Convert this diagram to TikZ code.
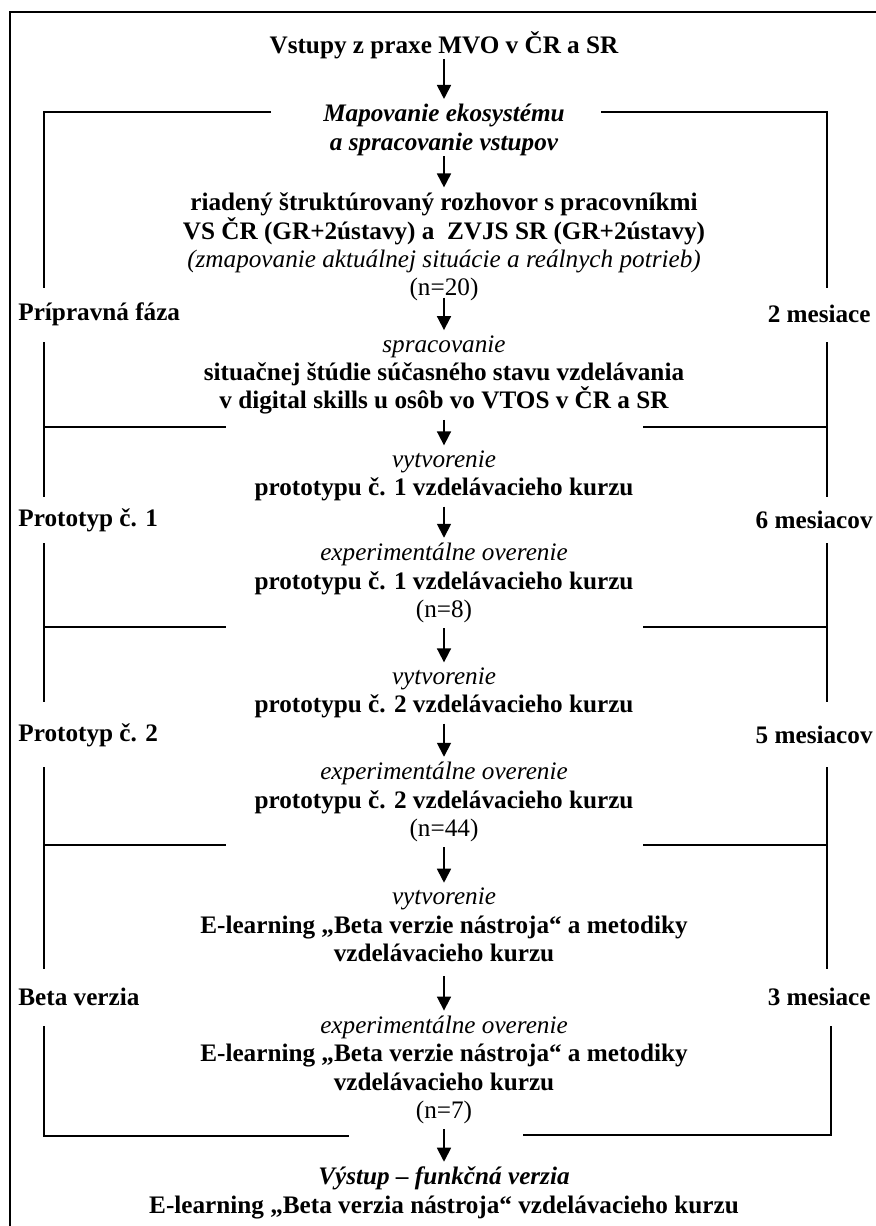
\documentclass[tikz,border=0pt]{standalone}
\usepackage{fontspec}
\setmainfont{Liberation Serif}
\usetikzlibrary{arrows.meta}

\begin{document}
\begin{tikzpicture}[x=0.5pt,y=-0.5pt]
  \tikzstyle{txt}=[align=center,inner sep=0pt,font=\fontsize{12.6}{14.2}\selectfont\bfseries]
  \tikzstyle{side}=[inner sep=0pt,font=\fontsize{12.6}{14.2}\selectfont\bfseries]
  \tikzstyle{flow}=[-{Triangle[length=7pt,width=7pt]},line width=0.9pt,shorten <=2.5pt,shorten >=2.5pt]
  \tikzstyle{phase}=[line width=1pt]
  \newcommand{\ital}[1]{{\mdseries\itshape #1}}
  \useasboundingbox (0,0) rectangle (876,1226);
  % frame
  \draw[phase] (880,12) -- (10,12) -- (10,1230);
  % flow
  \node[txt] (vstupy) at (444,45) {Vstupy z praxe MVO v ČR a SR};
  \node[txt] (mapovanie) at (444,130) {\itshape Mapovanie ekosystému\\\itshape a spracovanie vstupov};
  \node[txt] (rozhovor) at (444,247) {riadený štruktúrovaný rozhovor s pracovníkmi\\
    VS ČR (GR+2ústavy) a \ ZVJS SR (GR+2ústavy)\\
    \ital{(zmapovanie aktuálnej situácie a reálnych potrieb)}\\
    \mdseries (n=20)};
  \node[txt] (studia) at (444,375) {\ital{spracovanie}\\
    situačnej štúdie súčasného stavu vzdelávania\\
    v digital skills u osôb vo VTOS v ČR a SR};
  \node[txt] (proto1) at (444,476) {\ital{vytvorenie}\\prototypu č. 1 vzdelávacieho kurzu};
  \node[txt] (over1) at (444,583) {\ital{experimentálne overenie}\\prototypu č. 1 vzdelávacieho kurzu\\\mdseries (n=8)};
  \node[txt] (proto2) at (444,693) {\ital{vytvorenie}\\prototypu č. 2 vzdelávacieho kurzu};
  \node[txt] (over2) at (444,802) {\ital{experimentálne overenie}\\prototypu č. 2 vzdelávacieho kurzu\\\mdseries (n=44)};
  \node[txt] (beta) at (444,925) {\ital{vytvorenie}\\E-learning „Beta verzie nástroja“ a metodiky\\vzdelávacieho kurzu};
  \node[txt] (overbeta) at (444,1070) {\ital{experimentálne overenie}\\E-learning „Beta verzie nástroja“ a metodiky\\vzdelávacieho kurzu\\\mdseries (n=7)};
  \node[txt] (vystup) at (444,1193) {\itshape Výstup – funkčná verzia\\E-learning „Beta verzia nástroja“ vzdelávacieho kurzu};
  \draw[flow,shorten <=0pt] (vstupy) -- (mapovanie);
  \draw[flow,shorten <=0pt] (mapovanie) -- (rozhovor);
  \draw[flow,shorten <=-2pt] (rozhovor) -- (studia);
  \draw[flow] (studia) -- (proto1);
  \draw[flow] (proto1) -- (over1);
  \draw[flow] (over1) -- (proto2);
  \draw[flow] (proto2) -- (over2);
  \draw[flow] (over2) -- (beta);
  \draw[flow,shorten <=7pt] (beta) -- (overbeta);
  \draw[flow] (overbeta) -- (vystup);
  % phases
  \node[side,anchor=west] (f1) at (18,314) {Prípravná fáza};
  \node[side,anchor=east] (m1) at (871,314) {2 mesiace};
  \node[side,anchor=west] (f2) at (18,520) {Prototyp č. 1};
  \node[side,anchor=east] (m2) at (873,520) {6 mesiacov};
  \node[side,anchor=west] (f3) at (18,735) {Prototyp č. 2};
  \node[side,anchor=east] (m3) at (873,735) {5 mesiacov};
  \node[side,anchor=west] (f4) at (18,997) {Beta verzia};
  \node[side,anchor=east] (m4) at (871,997) {3 mesiace};
  \draw[phase] (271,112) -- (44,112) -- (44,288) (44,342) -- (44,427) -- (226,427);
  \draw[phase] (601,112) -- (827,112) -- (827,288) (827,342) -- (827,427) -- (643,427);
  \draw[phase] (44,427) -- (44,497) (44,543) -- (44,627) -- (226,627);
  \draw[phase] (827,427) -- (827,497) (827,543) -- (827,627) -- (643,627);
  \draw[phase] (44,627) -- (44,702) (44,767) -- (44,845) -- (226,845);
  \draw[phase] (827,627) -- (827,702) (827,767) -- (827,845) -- (643,845);
  \draw[phase] (44,845) -- (44,969) (44,1026) -- (44,1136) -- (349,1136);
  \draw[phase] (827,845) -- (827,969) (831,1026) -- (831,1135) -- (523,1135);
\end{tikzpicture}
\end{document}
